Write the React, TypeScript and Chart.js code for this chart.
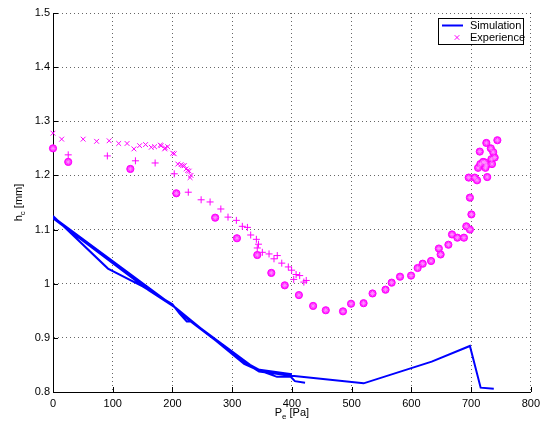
import React, { useEffect, useRef } from 'react';
import { Chart, registerables } from 'chart.js';

Chart.register(...registerables);

// ---------- data ----------
const xTickValues = [0, 100, 200, 300, 400, 500, 600, 700, 800];
const yTickValues = [0.8, 0.9, 1.0, 1.1, 1.2, 1.3, 1.4, 1.5];

const simA_X = [0, 200, 225, 320, 345, 400, 520, 634, 698, 716, 738];
const simA_Y = [1.123, 0.960, 0.935, 0.855, 0.838, 0.830, 0.816, 0.856, 0.885, 0.808, 0.806];
const simB_X = [0, 92, 150, 200, 212, 224, 232, 330, 350, 375, 398, 405, 422];
const simB_Y = [1.125, 1.028, 0.995, 0.962, 0.945, 0.930, 0.930, 0.850, 0.838, 0.828, 0.828, 0.820, 0.817];
const simC_X = [0, 160, 205, 320, 340, 400];
const simC_Y = [1.121, 0.988, 0.956, 0.852, 0.842, 0.833];

const expCrossX = [0, 14.5, 50.5, 73, 94, 110, 124, 135.5, 145, 155, 164.5, 170, 179.5, 181, 187, 188, 192, 200.5, 203, 209, 214.5, 217, 220, 223, 225.5, 228, 229.5, 231];
const expCrossY = [1.278, 1.267, 1.267, 1.263, 1.264, 1.259, 1.259, 1.249, 1.255, 1.257, 1.252, 1.253, 1.256, 1.255, 1.249, 1.251, 1.253, 1.241, 1.240, 1.221, 1.220, 1.218, 1.218, 1.212, 1.209, 1.208, 1.196, 1.200];

const expPlusX = [25.5, 91, 138, 171, 203, 226.5, 248, 263, 281, 293, 307, 317, 325.5, 331, 340.5, 344, 342, 350.5, 361.7, 370, 375.5, 383, 394, 399.5, 403, 407, 413, 420, 424];
const expPlusY = [1.238, 1.236, 1.227, 1.223, 1.203, 1.169, 1.155, 1.151, 1.138, 1.123, 1.117, 1.106, 1.104, 1.090, 1.082, 1.073, 1.066, 1.058, 1.055, 1.046, 1.052, 1.038, 1.031, 1.025, 1.008, 1.017, 1.015, 1.003, 1.006];

const expCircX = [0, 25.5, 129.5, 206.5, 271.5, 308, 342, 365.5, 388, 411.7, 435.5, 456.7, 485.5, 499, 520, 535, 556.7, 567, 581, 599.5, 610.5, 619, 633, 646, 649, 662, 668, 677, 688, 692, 698, 700.5, 698, 696, 706, 710, 727, 711.7, 714.5, 715.5, 720, 725.5, 725.5, 733, 734, 735, 737, 739.5, 744, 723, 724];
const expCircY = [1.250, 1.225, 1.212, 1.167, 1.122, 1.084, 1.053, 1.020, 0.997, 0.979, 0.959, 0.951, 0.949, 0.963, 0.964, 0.982, 0.989, 1.002, 1.013, 1.015, 1.029, 1.037, 1.042, 1.065, 1.054, 1.072, 1.091, 1.085, 1.085, 1.106, 1.100, 1.128, 1.159, 1.196, 1.196, 1.191, 1.197, 1.214, 1.244, 1.221, 1.225, 1.219, 1.260, 1.250, 1.230, 1.221, 1.243, 1.233, 1.265, 1.224, 1.214];

const legendLabels = ['Simulation', 'Experience'];
const xTitleMain = 'P';
const xTitleSub = 'e';
const xTitleRest = ' [Pa]';
const yTitleMain = 'h';
const yTitleSub = 'c';
const yTitleRest = ' [mm]';

// ---------- helpers ----------
const FONT = "'Liberation Sans', Arial, Helvetica, sans-serif";
const MAGENTA = '#ff00ff';
const BLUE = '#0000ff';

function pts(xs: number[], ys: number[]) {
  return xs.map((x, i) => ({ x, y: ys[i] }));
}

function simData() {
  return [
    ...pts(simA_X, simA_Y),
    { x: simA_X[simA_X.length - 1], y: null as any },
    ...pts(simB_X, simB_Y),
    { x: simB_X[simB_X.length - 1], y: null as any },
    ...pts(simC_X, simC_Y),
  ];
}

function drawSubText(ctx: CanvasRenderingContext2D, main: string, sub: string, rest: string, cx: number, baseline: number) {
  const mainFont = `11px ${FONT}`;
  const subFont = `8px ${FONT}`;
  ctx.font = mainFont;
  const wMain = ctx.measureText(main).width;
  const wRest = ctx.measureText(rest).width;
  ctx.font = subFont;
  const wSub = ctx.measureText(sub).width;
  const total = wMain + wSub + wRest;
  let x = cx - total / 2;
  ctx.textBaseline = 'alphabetic';
  ctx.textAlign = 'left';
  ctx.fillStyle = '#000';
  ctx.font = mainFont;
  ctx.fillText(main, x, baseline);
  x += wMain;
  ctx.font = subFont;
  ctx.fillText(sub, x, baseline + 3);
  x += wSub;
  ctx.font = mainFont;
  ctx.fillText(rest, x, baseline);
}

const decorPlugin = {
  id: 'decor',
  afterDraw(chart: any) {
    const ctx: CanvasRenderingContext2D = chart.ctx;
    const area = chart.chartArea;
    const xs = chart.scales.x;
    const ys = chart.scales.y;
    ctx.save();
    // inward tick marks
    ctx.strokeStyle = '#000';
    ctx.lineWidth = 1;
    ctx.beginPath();
    xTickValues.forEach((v) => {
      const px = Math.round(xs.getPixelForValue(v)) + 0.5;
      ctx.moveTo(px, area.bottom);
      ctx.lineTo(px, area.bottom - 5);
    });
    yTickValues.forEach((v) => {
      const py = Math.round(ys.getPixelForValue(v)) + 0.5;
      ctx.moveTo(area.left, py);
      ctx.lineTo(area.left + 5, py);
    });
    ctx.stroke();

    // axis titles
    drawSubText(ctx, xTitleMain, xTitleSub, xTitleRest, (area.left + area.right) / 2, 416);
    ctx.save();
    ctx.translate(22, (area.top + area.bottom) / 2);
    ctx.rotate(-Math.PI / 2);
    drawSubText(ctx, yTitleMain, yTitleSub, yTitleRest, 0, 0);
    ctx.restore();

    // legend
    const lx = 438.5, ly = 18.5, lw = 85, lh = 26;
    ctx.fillStyle = '#fff';
    ctx.fillRect(lx, ly, lw, lh);
    ctx.strokeStyle = '#000';
    ctx.lineWidth = 1;
    ctx.strokeRect(lx, ly, lw, lh);
    ctx.strokeStyle = BLUE;
    ctx.lineWidth = 2;
    ctx.beginPath();
    ctx.moveTo(442, 25.5);
    ctx.lineTo(463, 25.5);
    ctx.stroke();
    ctx.strokeStyle = MAGENTA;
    ctx.lineWidth = 1;
    ctx.beginPath();
    const mx = 457, my = 37.5, r = 2.3;
    ctx.moveTo(mx - r, my - r);
    ctx.lineTo(mx + r, my + r);
    ctx.moveTo(mx + r, my - r);
    ctx.lineTo(mx - r, my + r);
    ctx.stroke();
    ctx.fillStyle = '#000';
    ctx.font = `11px ${FONT}`;
    ctx.textAlign = 'left';
    ctx.textBaseline = 'middle';
    ctx.fillText(legendLabels[0], 470, 25.5);
    ctx.fillText(legendLabels[1], 470, 37.5);
    ctx.restore();
  },
};

export default function App() {
  const canvasRef = useRef<HTMLCanvasElement | null>(null);

  useEffect(() => {
    const canvas = canvasRef.current;
    if (!canvas) return;
    const tickFont = { family: FONT, size: 11 };
    const chart = new Chart(canvas, {
      type: 'scatter',
      data: {
        datasets: [
          {
            label: legendLabels[0],
            data: simData(),
            showLine: true,
            spanGaps: false,
            borderColor: BLUE,
            backgroundColor: BLUE,
            borderWidth: 2,
            pointRadius: 0,
            tension: 0,
            order: 1,
          } as any,
          {
            label: legendLabels[1],
            data: pts(expCrossX, expCrossY),
            pointStyle: 'crossRot',
            pointRadius: 3.4,
            borderColor: MAGENTA,
            backgroundColor: MAGENTA,
            borderWidth: 1,
            clip: false,
            order: 0,
          } as any,
          {
            label: 'plus',
            data: pts(expPlusX, expPlusY),
            pointStyle: 'cross',
            pointRadius: 3.5,
            borderColor: MAGENTA,
            backgroundColor: MAGENTA,
            borderWidth: 1,
            clip: false,
            order: 0,
          } as any,
          {
            label: 'circ',
            data: pts(expCircX, expCircY),
            pointStyle: 'circle',
            pointRadius: 3.6,
            borderColor: MAGENTA,
            backgroundColor: '#ff22ff',
            borderWidth: 1,
            clip: false,
            order: 0,
          } as any,
          {
            label: 'star',
            data: pts(expCircX, expCircY),
            pointStyle: 'star',
            pointRadius: 2.4,
            borderColor: '#ff99ff',
            backgroundColor: '#ff99ff',
            borderWidth: 0.8,
            clip: false,
            order: -1,
          } as any,
        ],
      },
      options: {
        responsive: false,
        animation: false,
        events: [],
        layout: { padding: { top: 13, right: 12, left: 0, bottom: 0 } },
        plugins: {
          legend: { display: false },
          tooltip: { enabled: false },
          title: { display: false },
        },
        scales: {
          x: {
            type: 'linear',
            min: 0,
            max: 800,
            ticks: {
              stepSize: 100,
              font: tickFont,
              color: '#000',
              padding: 5,
              maxRotation: 0,
              autoSkip: false,
            },
            grid: { color: 'rgba(0,0,0,0.6)', lineWidth: 1, drawTicks: false },
            border: { display: true, color: '#000', width: 1, dash: [1, 3] },
            afterFit: (s: any) => { s.height = 35; },
          },
          y: {
            type: 'linear',
            min: 0.8,
            max: 1.5,
            ticks: {
              stepSize: 0.1,
              font: tickFont,
              color: '#000',
              padding: 3,
              autoSkip: false,
              callback: (v: any) => String(Math.round(Number(v) * 10) / 10),
            },
            grid: { color: 'rgba(0,0,0,0.6)', lineWidth: 1, drawTicks: false },
            border: { display: true, color: '#000', width: 1, dash: [1, 3] },
            afterFit: (s: any) => { s.width = 53; },
          },
        },
      } as any,
      plugins: [decorPlugin],
    });
    return () => chart.destroy();
  }, []);

  return (
    <div style={{ position: 'absolute', left: 0, top: 0, width: 545, height: 427, background: '#fff' }}>
      <canvas ref={canvasRef} width={545} height={427} style={{ display: 'block' }} />
    </div>
  );
}
